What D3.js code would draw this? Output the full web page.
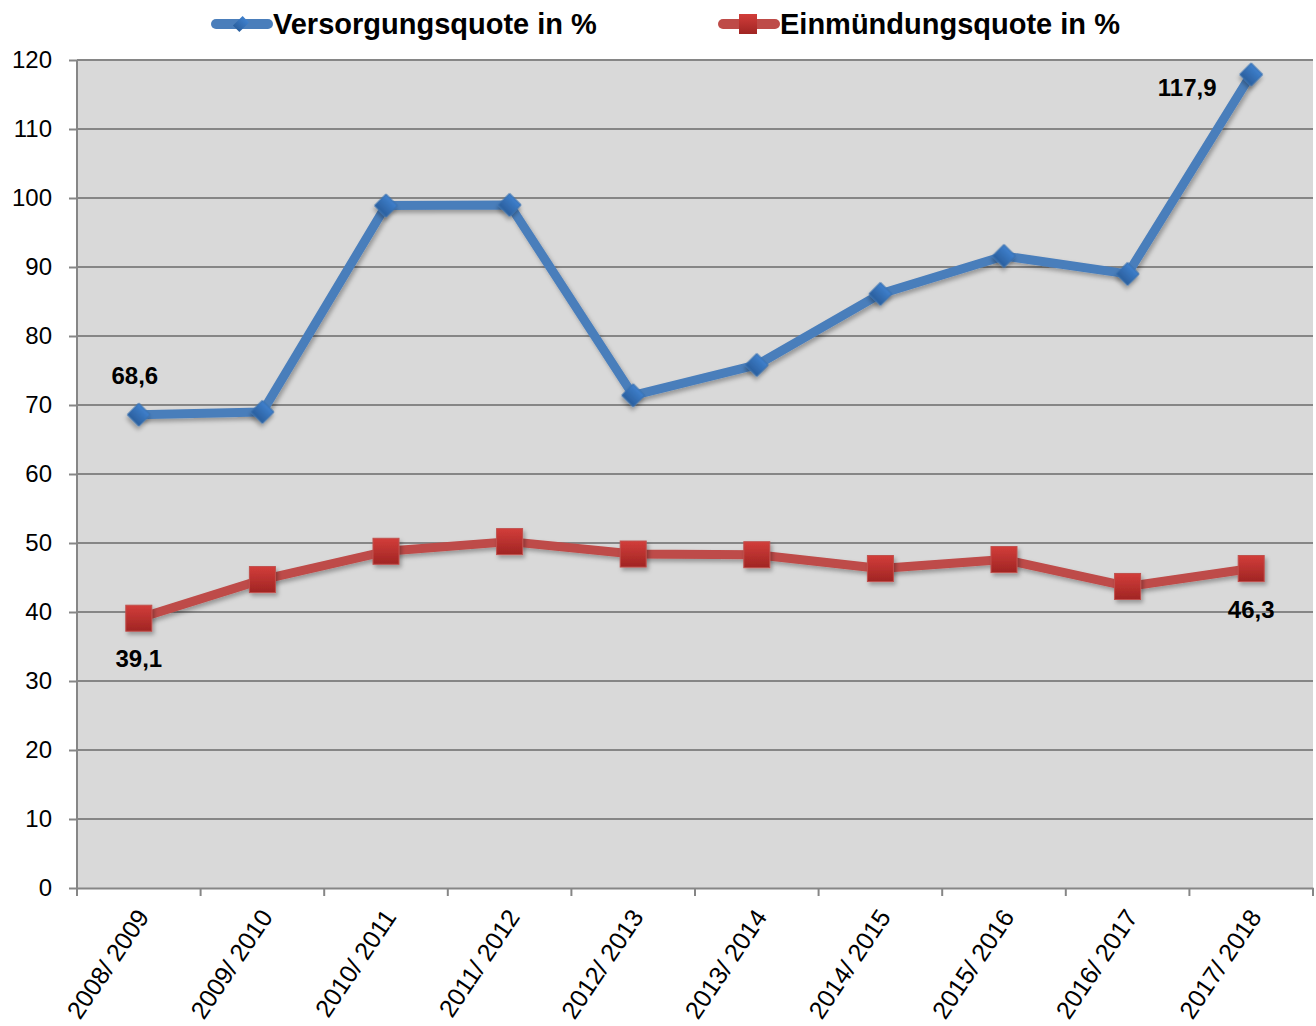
<html lang="de"><head>
<meta charset="UTF-8">
<title>Versorgungsquote</title>
<script src="https://cdn.jsdelivr.net/npm/d3@7"></script>
<style>
body { margin: 0; background: #fff; }
text { font-family: "Liberation Sans", Arial, sans-serif; }
</style>
</head>
<body>
<script>
var width = 1316, height = 1026;
var margin = {left: 77, right: 3, top: 60, bottom: 138};

var years = ["2008/ 2009", "2009/ 2010", "2010/ 2011", "2011/ 2012", "2012/ 2013",
             "2013/ 2014", "2014/ 2015", "2015/ 2016", "2016/ 2017", "2017/ 2018"];
var versorgung = [68.6, 69.0, 98.9, 99.0, 71.4, 75.8, 86.1, 91.6, 89.0, 117.9];
var einmuendung = [39.1, 44.7, 48.8, 50.2, 48.4, 48.3, 46.3, 47.6, 43.7, 46.3];
var yTicks = [0, 10, 20, 30, 40, 50, 60, 70, 80, 90, 100, 110, 120];

var svg = d3.select("body").append("svg")
  .attr("width", width).attr("height", height);

var defs = svg.append("defs");
var gb = defs.append("linearGradient").attr("id", "gBlue").attr("x1", 0).attr("y1", 0).attr("x2", 0).attr("y2", 1);
gb.append("stop").attr("offset", "0%").attr("stop-color", "#3f80cd");
gb.append("stop").attr("offset", "100%").attr("stop-color", "#2a5f9e");
var gr = defs.append("linearGradient").attr("id", "gRed").attr("x1", 0).attr("y1", 0).attr("x2", 0).attr("y2", 1);
gr.append("stop").attr("offset", "0%").attr("stop-color", "#d23d3a");
gr.append("stop").attr("offset", "100%").attr("stop-color", "#a02523");
var sh = defs.append("filter").attr("id", "shadow").attr("x", "-50%").attr("y", "-50%").attr("width", "200%").attr("height", "200%");
sh.append("feDropShadow").attr("dx", 2).attr("dy", 3).attr("stdDeviation", 2).attr("flood-color", "#000").attr("flood-opacity", 0.3);

var x = d3.scaleBand().domain(years).range([margin.left, width - margin.right]);
var y = d3.scaleLinear().domain([0, 120]).range([height - margin.bottom, margin.top]);

// plot background
svg.append("rect")
  .attr("x", margin.left).attr("y", margin.top)
  .attr("width", width - margin.right - margin.left)
  .attr("height", y(0) - margin.top)
  .attr("fill", "#d9d9d9");

// y axis with gridlines
var yAxis = svg.append("g")
  .attr("transform", `translate(${margin.left},0)`)
  .call(d3.axisLeft(y).tickValues(yTicks).tickSize(8).tickPadding(17));
yAxis.select(".domain").remove();
yAxis.selectAll("line").attr("stroke", "#868686").attr("stroke-width", 2);
yAxis.selectAll("text").attr("font-size", 24).attr("fill", "#000")
  .attr("font-family", "Liberation Sans, Arial, sans-serif");

svg.append("g").selectAll("line").data(yTicks.filter(d => d > 0)).enter()
  .append("line")
  .attr("x1", margin.left).attr("x2", width - margin.right)
  .attr("y1", d => y(d)).attr("y2", d => y(d))
  .attr("stroke", "#868686").attr("stroke-width", 2);

svg.append("line")
  .attr("x1", margin.left).attr("x2", margin.left)
  .attr("y1", margin.top).attr("y2", y(0))
  .attr("stroke", "#868686").attr("stroke-width", 2);

// x axis
var xAxis = svg.append("g")
  .attr("transform", `translate(0,${y(0)})`)
  .call(d3.axisBottom(x).tickSize(0));
xAxis.select(".domain").attr("stroke", "#868686").attr("stroke-width", 2);
xAxis.selectAll("text")
  .attr("font-size", 25).attr("fill", "#000")
  .attr("font-family", "Liberation Sans, Arial, sans-serif")
  .attr("text-anchor", "end")
  .attr("y", 0).attr("dy", "0.35em")
  .attr("transform", "translate(4,24) rotate(-56)");

// band boundary ticks
var bounds = years.map(d => x(d)).concat([width - margin.right]);
svg.append("g").selectAll("line").data(bounds).enter().append("line")
  .attr("x1", d => d).attr("x2", d => d)
  .attr("y1", y(0)).attr("y2", y(0) + 8)
  .attr("stroke", "#868686").attr("stroke-width", 2);

var cx = d => x(d) + x.bandwidth() / 2;

var line = d3.line().x((d, i) => cx(years[i])).y(d => y(d));

svg.append("path").datum(versorgung)
  .attr("d", line).attr("fill", "none")
  .attr("stroke", "#4a7ebb").attr("stroke-width", 9)
  .attr("stroke-linejoin", "round")
  .attr("filter", "url(#shadow)");

svg.append("path").datum(einmuendung)
  .attr("d", line).attr("fill", "none")
  .attr("stroke", "#be4b48").attr("stroke-width", 9)
  .attr("stroke-linejoin", "round")
  .attr("filter", "url(#shadow)");

// markers
svg.append("g").selectAll("path").data(versorgung).enter().append("path")
  .attr("d", d3.symbol().type(d3.symbolSquare).size(260))
  .attr("transform", (d, i) => `translate(${cx(years[i])},${y(d)}) rotate(45)`)
  .attr("fill", "url(#gBlue)")
  .attr("stroke", "#3a70b0").attr("stroke-width", 1)
  .attr("filter", "url(#shadow)");

svg.append("g").selectAll("rect").data(einmuendung).enter().append("rect")
  .attr("x", (d, i) => cx(years[i]) - 13)
  .attr("y", d => y(d) - 13)
  .attr("width", 26).attr("height", 26)
  .attr("fill", "url(#gRed)")
  .attr("stroke", "#c0504d").attr("stroke-width", 1)
  .attr("filter", "url(#shadow)");

// data labels (first and last)
var labels = [
  {i: 0, v: versorgung[0], dx: -4, dy: -31},
  {i: 9, v: versorgung[9], dx: -64, dy: 22},
  {i: 0, v: einmuendung[0], dx: 0, dy: 49},
  {i: 9, v: einmuendung[9], dx: 0, dy: 49}
];
svg.append("g").selectAll("text").data(labels).enter().append("text")
  .attr("x", d => cx(years[d.i]) + d.dx)
  .attr("y", d => y(d.v) + d.dy)
  .attr("text-anchor", "middle")
  .attr("font-size", 24).attr("font-weight", "bold")
  .text(d => d3.format(".1f")(d.v).replace(".", ","));

// legend
var legend = [
  {name: "Versorgungsquote in %", color: "#4a7ebb", x: 212, type: "d"},
  {name: "Einmündungsquote in %", color: "#be4b48", x: 719, type: "s"}
];
var lg = svg.append("g").selectAll("g").data(legend).enter().append("g")
  .attr("transform", d => `translate(${d.x},24)`);
lg.append("line").attr("x1", 4).attr("x2", 56).attr("y1", 0).attr("y2", 0)
  .attr("stroke", d => d.color).attr("stroke-width", 10).attr("stroke-linecap", "round");
lg.filter(d => d.type === "d").append("path")
  .attr("d", d3.symbol().type(d3.symbolSquare).size(130))
  .attr("transform", "translate(29,0) rotate(45) scale(0.8,1.2)")
  .attr("fill", "url(#gBlue)");
lg.filter(d => d.type === "s").append("rect")
  .attr("x", 20).attr("y", -10).attr("width", 18).attr("height", 20)
  .attr("fill", "url(#gRed)");
lg.append("text").attr("x", 61).attr("y", 10)
  .attr("font-size", 29).attr("font-weight", "bold")
  .text(d => d.name);
</script>
</body></html>
